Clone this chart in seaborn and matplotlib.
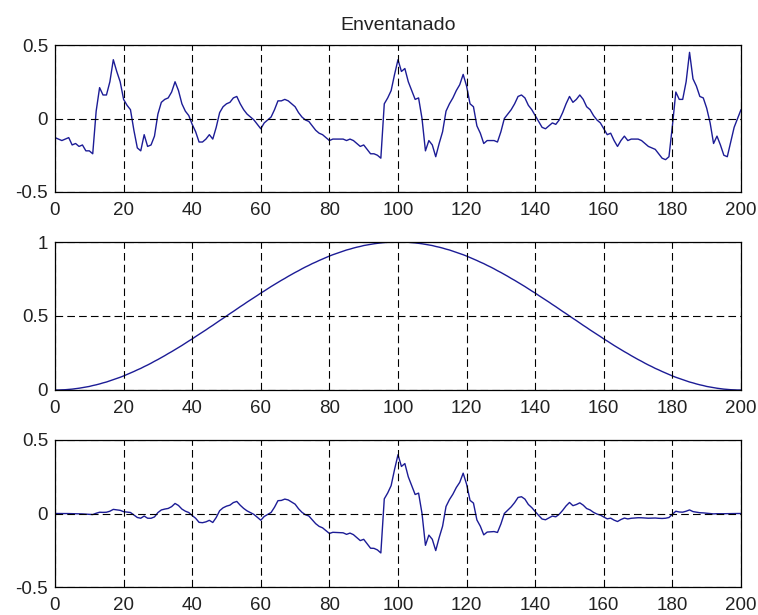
import numpy as np
import pandas as pd
import matplotlib
matplotlib.use("Agg")
import matplotlib.pyplot as plt
import seaborn as sns

# ---- data ----
samples = list(range(0, 201))

signal = [
    -0.13, -0.14, -0.15, -0.14, -0.13, -0.18, -0.17, -0.19, -0.18, -0.22,
    -0.22, -0.24, 0.05, 0.21, 0.16, 0.16, 0.25, 0.40, 0.32, 0.25,
    0.13, 0.09, 0.06, -0.08, -0.20, -0.22, -0.11, -0.19, -0.18, -0.12,
    0.03, 0.11, 0.13, 0.14, 0.18, 0.25, 0.19, 0.10, 0.05, 0.02,
    -0.04, -0.09, -0.16, -0.16, -0.14, -0.11, -0.14, -0.06, 0.04, 0.08,
    0.10, 0.11, 0.14, 0.15, 0.10, 0.06, 0.03, 0.01, -0.01, -0.04,
    -0.07, -0.03, -0.01, 0.01, 0.06, 0.12, 0.12, 0.13, 0.12, 0.10,
    0.08, 0.04, 0.01, -0.01, -0.02, -0.05, -0.08, -0.10, -0.11, -0.13,
    -0.15, -0.14, -0.14, -0.14, -0.14, -0.15, -0.14, -0.15, -0.17, -0.19,
    -0.18, -0.21, -0.24, -0.24, -0.25, -0.27, 0.10, 0.14, 0.19, 0.30,
    0.40, 0.32, 0.34, 0.25, 0.19, 0.13, 0.14, 0.00, -0.22, -0.15,
    -0.18, -0.26, -0.17, -0.09, 0.05, 0.10, 0.14, 0.19, 0.23, 0.30,
    0.22, 0.10, 0.08, -0.05, -0.10, -0.17, -0.15, -0.15, -0.15, -0.16,
    -0.09, 0.00, 0.03, 0.06, 0.10, 0.15, 0.16, 0.14, 0.09, 0.06,
    0.02, -0.02, -0.06, -0.07, -0.05, -0.03, -0.04, -0.01, 0.04, 0.10,
    0.15, 0.11, 0.13, 0.16, 0.13, 0.08, 0.06, 0.02, -0.01, -0.03,
    -0.07, -0.11, -0.10, -0.15, -0.19, -0.15, -0.12, -0.15, -0.14, -0.14,
    -0.14, -0.15, -0.17, -0.19, -0.20, -0.21, -0.24, -0.27, -0.28, -0.26,
    -0.05, 0.18, 0.13, 0.13, 0.25, 0.45, 0.27, 0.22, 0.15, 0.14,
    0.07, -0.03, -0.17, -0.12, -0.18, -0.25, -0.26, -0.16, -0.06, 0.00,
    0.06,
]

window = [
    0.000, 0.000, 0.001, 0.002, 0.004, 0.006, 0.009, 0.012, 0.016, 0.020,
    0.024, 0.030, 0.035, 0.041, 0.048, 0.054, 0.062, 0.070, 0.078, 0.086,
    0.095, 0.105, 0.115, 0.125, 0.136, 0.146, 0.158, 0.169, 0.181, 0.194,
    0.206, 0.219, 0.232, 0.246, 0.259, 0.273, 0.287, 0.301, 0.316, 0.331,
    0.345, 0.361, 0.376, 0.391, 0.406, 0.422, 0.437, 0.453, 0.469, 0.484,
    0.500, 0.516, 0.531, 0.547, 0.563, 0.578, 0.594, 0.609, 0.624, 0.639,
    0.655, 0.669, 0.684, 0.699, 0.713, 0.727, 0.741, 0.754, 0.768, 0.781,
    0.794, 0.806, 0.819, 0.831, 0.842, 0.854, 0.864, 0.875, 0.885, 0.895,
    0.905, 0.914, 0.922, 0.930, 0.938, 0.946, 0.952, 0.959, 0.965, 0.970,
    0.976, 0.980, 0.984, 0.988, 0.991, 0.994, 0.996, 0.998, 0.999, 1.000,
    1.000, 1.000, 0.999, 0.998, 0.996, 0.994, 0.991, 0.988, 0.984, 0.980,
    0.976, 0.970, 0.965, 0.959, 0.952, 0.946, 0.938, 0.930, 0.922, 0.914,
    0.905, 0.895, 0.885, 0.875, 0.864, 0.854, 0.842, 0.831, 0.819, 0.806,
    0.794, 0.781, 0.768, 0.754, 0.741, 0.727, 0.713, 0.699, 0.684, 0.669,
    0.655, 0.639, 0.624, 0.609, 0.594, 0.578, 0.563, 0.547, 0.531, 0.516,
    0.500, 0.484, 0.469, 0.453, 0.437, 0.422, 0.406, 0.391, 0.376, 0.361,
    0.345, 0.331, 0.316, 0.301, 0.287, 0.273, 0.259, 0.246, 0.232, 0.219,
    0.206, 0.194, 0.181, 0.169, 0.158, 0.146, 0.136, 0.125, 0.115, 0.105,
    0.095, 0.086, 0.078, 0.070, 0.062, 0.054, 0.048, 0.041, 0.035, 0.030,
    0.024, 0.020, 0.016, 0.012, 0.009, 0.006, 0.004, 0.002, 0.001, 0.000,
    0.000,
]

x_ticks = [0, 20, 40, 60, 80, 100, 120, 140, 160, 180, 200]
y_ticks_top = [-0.5, 0, 0.5]
y_labels_top = ["-0.5", "0", "0.5"]
y_ticks_mid = [0, 0.5, 1]
y_labels_mid = ["0", "0.5", "1"]
y_ticks_bot = [-0.5, 0, 0.5]
y_labels_bot = ["-0.5", "0", "0.5"]
title_text = "Enventanado"

windowed = [s * w for s, w in zip(signal, window)]

df = pd.DataFrame({"n": samples, "signal": signal, "window": window, "windowed": windowed})

# ---- style ----
sns.set_theme(style="white")
plt.rcParams["font.family"] = ["Liberation Sans", "DejaVu Sans"]
plt.rcParams["lines.scale_dashes"] = False

line_color = "#1c1c96"
text_color = "#222222"
fig = plt.figure(figsize=(7.58, 6.15), dpi=100)
fig.patch.set_facecolor("white")

W, H = 758, 615
def pos(left, top, right, bottom):
    return [left / W, 1 - bottom / H, (right - left) / W, (bottom - top) / H]

ax1 = fig.add_axes(pos(55, 45, 741, 192))
ax2 = fig.add_axes(pos(55, 242, 741, 390))
ax3 = fig.add_axes(pos(55, 440, 741, 587))

panels = [
    (ax1, "signal", (-0.5, 0.5), y_ticks_top, y_labels_top),
    (ax2, "window", (0, 1), y_ticks_mid, y_labels_mid),
    (ax3, "windowed", (-0.5, 0.5), y_ticks_bot, y_labels_bot),
]

for ax, col, ylim, yt, yl in panels:
    sns.lineplot(data=df, x="n", y=col, ax=ax, color=line_color, linewidth=1.0)
    ax.set_xlim(0, 200)
    ax.set_ylim(*ylim)
    ax.set_xticks(x_ticks)
    ax.set_xticklabels([str(t) for t in x_ticks])
    ax.set_yticks(yt)
    ax.set_yticklabels(yl)
    ax.set_xlabel("")
    ax.set_ylabel("")
    ax.set_facecolor("white")
    ax.grid(True, color="black", linestyle=(0, (5.5, 3.0)), linewidth=0.8)
    ax.set_axisbelow(False)
    for sp in ax.spines.values():
        sp.set_visible(True)
        sp.set_color("black")
        sp.set_linewidth(0.9)
    ax.tick_params(axis="both", direction="in", length=3, width=0.8,
                   colors="black", labelsize=13.5, labelcolor=text_color)
    ax.tick_params(axis="y", pad=5)
    ax.tick_params(axis="x", pad=7)

ax1.set_title(title_text, fontsize=14, color=text_color, pad=11)

fig.savefig("out.png", dpi=100, facecolor="white")
